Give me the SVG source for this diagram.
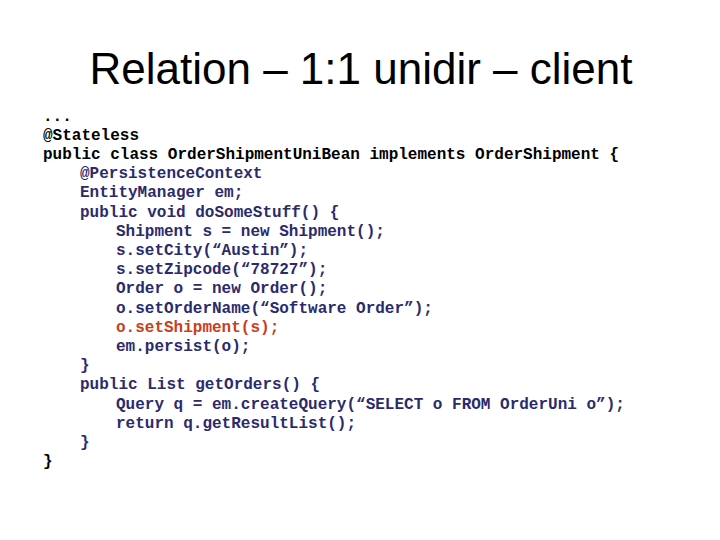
<svg xmlns="http://www.w3.org/2000/svg" width="720" height="540" viewBox="0 0 720 540">
<style>
.t{font-family:"Liberation Sans",Arial,sans-serif;font-size:44px;fill:#000}
.c{font-family:"Liberation Mono","Courier New",monospace;font-size:16px;font-weight:bold;fill:#000;white-space:pre}
.b{fill:#2b2b6b}
.r{fill:#c8401c}
</style>
<rect width="720" height="540" fill="#fff"/>
<text class="t" x="361" y="84" text-anchor="middle">Relation – 1:1 unidir – client</text>
<g class="c">
<text x="43" y="121">...</text>
<text x="43" y="140">@Stateless</text>
<text x="43" y="159">public class OrderShipmentUniBean implements OrderShipment {</text>
<text class="b" x="80" y="178">@PersistenceContext</text>
<text class="b" x="80" y="197">EntityManager em;</text>
<text class="b" x="80" y="217">public void doSomeStuff() {</text>
<text class="b" x="116" y="236">Shipment s = new Shipment();</text>
<text class="b" x="116" y="255">s.setCity(“Austin”);</text>
<text class="b" x="116" y="274">s.setZipcode(“78727”);</text>
<text class="b" x="116" y="293">Order o = new Order();</text>
<text class="b" x="116" y="313">o.setOrderName(“Software Order”);</text>
<text class="r" x="116" y="332">o.setShipment(s);</text>
<text class="b" x="116" y="351">em.persist(o);</text>
<text class="b" x="80" y="370">}</text>
<text class="b" x="80" y="389">public List getOrders() {</text>
<text class="b" x="116" y="409">Query q = em.createQuery(“SELECT o FROM OrderUni o”);</text>
<text class="b" x="116" y="428">return q.getResultList();</text>
<text class="b" x="80" y="447">}</text>
<text x="43" y="466">}</text>
</g>
</svg>
